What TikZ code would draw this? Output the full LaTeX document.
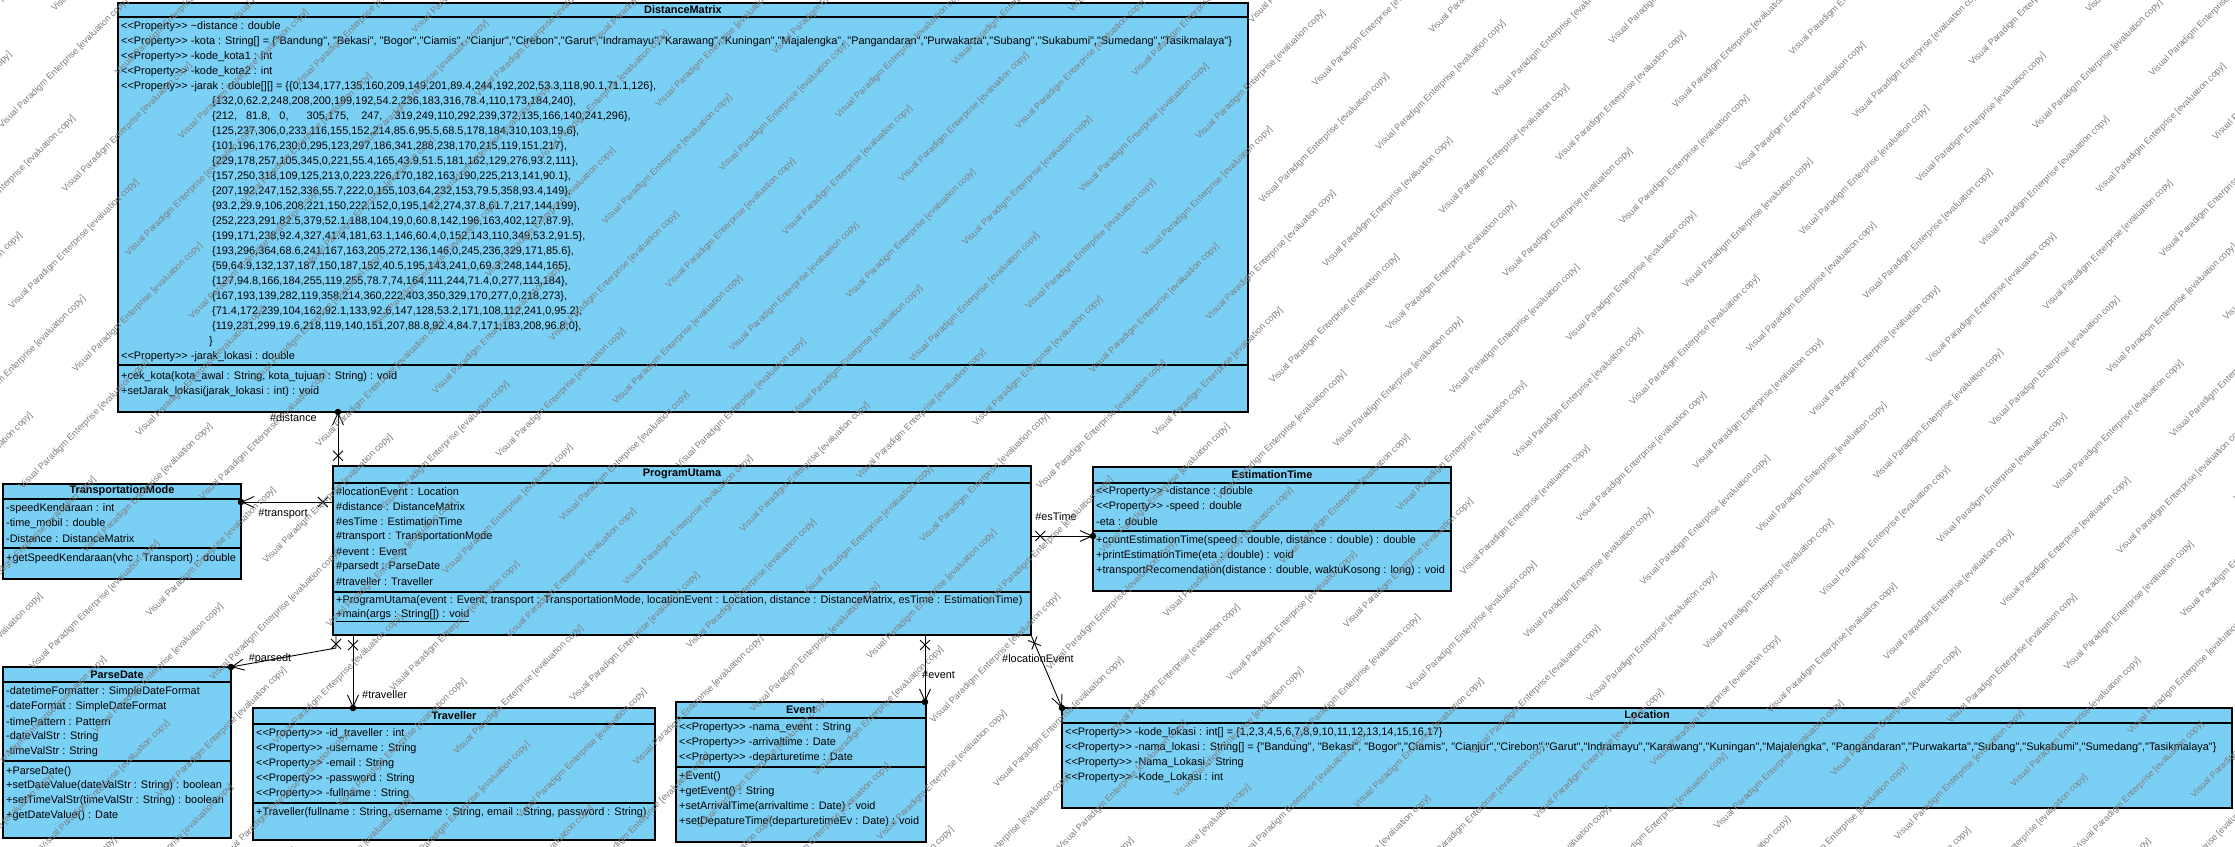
\documentclass[tikz,border=0pt]{standalone}
\usepackage{fontspec}
\newfontfamily\umlfont{Liberation Sans}
\usetikzlibrary{calc,arrows.meta,shapes.misc}
\definecolor{classfill}{RGB}{122,207,245}
\definecolor{wmark}{RGB}{125,125,125}

\tikzset{
  classbox/.style={draw=black, fill=classfill, line width=1.1pt, inner sep=0pt, outer sep=0pt, anchor=north west},
  cline/.style={line width=1.1pt},
  ctitle/.style={font=\umlfont\fontsize{10.9}{12}\selectfont\bfseries, inner sep=0pt},
  crow/.style={font=\umlfont\fontsize{10.9}{12}\selectfont, inner sep=0pt, anchor=west},
  assoc/.style={line width=0.9pt, -{Straight Barb[length=12pt,width=11pt]}},
  xmark/.style={draw, cross out, minimum size=9pt, inner sep=0pt, line width=0.9pt, sloped},
  dotend/.style={circle, fill=black, inner sep=0pt, minimum size=6.5pt},
  alabel/.style={font=\umlfont\fontsize{10.9}{12}\selectfont, inner sep=0pt},
  wm/.style={font=\umlfont\fontsize{9}{10}\selectfont, text=wmark, rotate=45, inner sep=0pt}
}

\begin{document}
\begin{tikzpicture}[x=1pt,y=-1pt]
\useasboundingbox[fill=white] (0,0) rectangle (2235,846);

% ---------- class boxes ----------
\node[classbox, minimum width=1130pt, minimum height=409pt] (DM) at (118,3) {};
\node[classbox, minimum width=698pt,  minimum height=169pt] (PU) at (333,466) {};
\node[classbox, minimum width=358pt,  minimum height=124pt] (ET) at (1093,467) {};
\node[classbox, minimum width=238pt,  minimum height=95pt]  (TM) at (3,484) {};
\node[classbox, minimum width=228pt,  minimum height=171pt] (PD) at (3,667) {};
\node[classbox, minimum width=402pt,  minimum height=132pt] (TR) at (253,708) {};
\node[classbox, minimum width=250pt,  minimum height=140pt] (EV) at (676,702) {};
\node[classbox, minimum width=1170pt, minimum height=100pt] (LO) at (1062,708) {};

% compartment separators
\draw[cline] (118,17) -- (1248,17);   \draw[cline] (118,365) -- (1248,365);
\draw[cline] (333,483) -- (1031,483); \draw[cline] (333,592) -- (1031,592);
\draw[cline] (1093,483) -- (1451,483); \draw[cline] (1093,531) -- (1451,531);
\draw[cline] (3,499) -- (241,499);    \draw[cline] (3,548) -- (241,548);
\draw[cline] (3,682) -- (231,682);    \draw[cline] (3,761) -- (231,761);
\draw[cline] (253,724) -- (655,724);  \draw[cline] (253,803) -- (655,803);
\draw[cline] (676,718) -- (926,718);  \draw[cline] (676,767) -- (926,767);
\draw[cline] (1062,723) -- (2232,723);

% ---------- DistanceMatrix ----------
\node[ctitle] (DMt) at (683,10) {DistanceMatrix};
\node[crow] (DMa1) at (121,27) {<{}<Property>{}> \textasciitilde distance : double};
\node[crow] (DMa2) at (121,42) {<{}<Property>{}> -kota : String[] = \{"Bandung", "Bekasi", "Bogor","Ciamis", "Cianjur","Cirebon","Garut","Indramayu","Karawang","Kuningan","Majalengka", "Pangandaran","Purwakarta","Subang","Sukabumi","Sumedang","Tasikmalaya"\}};
\node[crow] (DMa3) at (121,57) {<{}<Property>{}> -kode\_kota1 : int};
\node[crow] (DMa4) at (121,72) {<{}<Property>{}> -kode\_kota2 : int};
\node[crow] (DMa5) at (121,87) {<{}<Property>{}> -jarak : double[][] = \{\{0,134,177,135,160,209,149,201,89.4,244,192,202,53.3,118,90.1,71.1,126\},};
\foreach \r [count=\i from 0] in {
  {\{132,0,62.2,248,208,200,199,192,54.2,236,183,316,78.4,110,173,184,240\},},
  {\{212,\ \ \ 81.8,\ \ \ 0,\ \ \ \ \ \ 305,175,\ \ \ \ 247,\ \ \ \ 319,249,110,292,239,372,135,166,140,241,296\},},
  {\{125,237,306,0,233,116,155,152,214,85.6,95.5,68.5,178,184,310,103,19.6\},},
  {\{101,196,176,230,0,295,123,297,186,341,288,238,170,215,119,151,217\},},
  {\{229,178,257,105,345,0,221,55.4,165,43.9,51.5,181,162,129,276,93.2,111\},},
  {\{157,250,318,109,125,213,0,223,226,170,182,163,190,225,213,141,90.1\},},
  {\{207,192,247,152,336,55.7,222,0,155,103,64,232,153,79.5,358,93.4,149\},},
  {\{93.2,29.9,106,208,221,150,222,152,0,195,142,274,37.8,61.7,217,144,199\},},
  {\{252,223,291,82.5,379,52.1,188,104,19,0,60.8,142,196,163,402,127,87.9\},},
  {\{199,171,238,92.4,327,41.4,181,63.1,146,60.4,0,152,143,110,349,53.2,91.5\},},
  {\{193,296,364,68.6,241,167,163,205,272,136,146,0,245,236,329,171,85.6\},},
  {\{59,64.9,132,137,187,150,187,152,40.5,195,143,241,0,69.3,248,144,165\},},
  {\{127,94.8,166,184,255,119,255,78.7,74,164,111,244,71.4,0,277,113,184\},},
  {\{167,193,139,282,119,358,214,360,222,403,350,329,170,277,0,218,273\},},
  {\{71.4,172,239,104,162,92.1,133,92.6,147,128,53.2,171,108,112,241,0,95.2\},},
  {\{119,231,299,19.6,218,119,140,151,207,88.8,92.4,84.7,171,183,208,96.8,0\},}}
  \node[crow] (DMm\i) at (212,102+15*\i) {\r};
\node[crow] (DMclose) at (209,342) {\}};
\node[crow] (DMa6) at (121,357) {<{}<Property>{}> -jarak\_lokasi : double};
\node[crow] (DMo1) at (121,377) {+cek\_kota(kota\_awal : String, kota\_tujuan : String) : void};
\node[crow] (DMo2) at (121,392) {+setJarak\_lokasi(jarak\_lokasi : int) : void};

% ---------- ProgramUtama ----------
\node[ctitle] (PUt) at (682,474) {ProgramUtama};
\foreach \r [count=\i from 0] in {
  {\#locationEvent : Location}, {\#distance : DistanceMatrix}, {\#esTime : EstimationTime},
  {\#transport : TransportationMode}, {\#event : Event}, {\#parsedt : ParseDate}, {\#traveller : Traveller}}
  \node[crow] (PUa\i) at (336,492+15*\i) {\r};
\node[crow] (PUo1) at (336,601) {+ProgramUtama(event : Event, transport : TransportationMode, locationEvent : Location, distance : DistanceMatrix, esTime : EstimationTime)};
\node[crow] (PUo2) at (336,616) {\underline{+main(args : String[]) : void}};

% ---------- EstimationTime ----------
\node[ctitle] (ETt) at (1272,475) {EstimationTime};
\node[crow] (ETa1) at (1096,492) {<{}<Property>{}> -distance : double};
\node[crow] (ETa2) at (1096,507) {<{}<Property>{}> -speed : double};
\node[crow] (ETa3) at (1096,522) {-eta : double};
\node[crow] (ETo1) at (1096,541) {+countEstimationTime(speed : double, distance : double) : double};
\node[crow] (ETo2) at (1096,556) {+printEstimationTime(eta : double) : void};
\node[crow] (ETo3) at (1096,571) {+transportRecomendation(distance : double, waktuKosong : long) : void};

% ---------- TransportationMode ----------
\node[ctitle] (TMt) at (122,491) {TransportationMode};
\node[crow] (TMa1) at (6,509) {-speedKendaraan : int};
\node[crow] (TMa2) at (6,524) {-time\_mobil : double};
\node[crow] (TMa3) at (6,539) {-Distance : DistanceMatrix};
\node[crow] (TMo1) at (6,559) {+getSpeedKendaraan(vhc : Transport) : double};

% ---------- ParseDate ----------
\node[ctitle] (PDt) at (117,675) {ParseDate};
\node[crow] (PDa1) at (6,692) {-datetimeFormatter : SimpleDateFormat};
\node[crow] (PDa2) at (6,707) {-dateFormat : SimpleDateFormat};
\node[crow] (PDa3) at (6,722) {-timePattern : Pattern};
\node[crow] (PDa4) at (6,737) {-dateValStr : String};
\node[crow] (PDa5) at (6,752) {-timeValStr : String};
\node[crow] (PDo1) at (6,772) {+ParseDate()};
\node[crow] (PDo2) at (6,786) {+setDateValue(dateValStr : String) : boolean};
\node[crow] (PDo3) at (6,801) {+setTimeValStr(timeValStr : String) : boolean};
\node[crow] (PDo4) at (6,816) {+getDateValue() : Date};

% ---------- Traveller ----------
\node[ctitle] (TRt) at (454,716) {Traveller};
\node[crow] (TRa1) at (256,734) {<{}<Property>{}> -id\_traveller : int};
\node[crow] (TRa2) at (256,749) {<{}<Property>{}> -username : String};
\node[crow] (TRa3) at (256,764) {<{}<Property>{}> -email : String};
\node[crow] (TRa4) at (256,779) {<{}<Property>{}> -password : String};
\node[crow] (TRa5) at (256,794) {<{}<Property>{}> -fullname : String};
\node[crow] (TRo1) at (256,813) {+Traveller(fullname : String, username : String, email : String, password : String)};

% ---------- Event ----------
\node[ctitle] (EVt) at (801,710) {Event};
\node[crow] (EVa1) at (679,728) {<{}<Property>{}> -nama\_event : String};
\node[crow] (EVa2) at (679,743) {<{}<Property>{}> -arrivaltime : Date};
\node[crow] (EVa3) at (679,758) {<{}<Property>{}> -departuretime : Date};
\node[crow] (EVo1) at (679,777) {+Event()};
\node[crow] (EVo2) at (679,792) {+getEvent() : String};
\node[crow] (EVo3) at (679,807) {+setArrivalTime(arrivaltime : Date) : void};
\node[crow] (EVo4) at (679,822) {+setDepatureTime(departuretimeEv : Date) : void};

% ---------- Location ----------
\node[ctitle] (LOt) at (1647,715) {Location};
\node[crow] (LOa1) at (1065,733) {<{}<Property>{}> -kode\_lokasi : int[] = \{1,2,3,4,5,6,7,8,9,10,11,12,13,14,15,16,17\}};
\node[crow] (LOa2) at (1065,748) {<{}<Property>{}> -nama\_lokasi : String[] = \{"Bandung", "Bekasi", "Bogor","Ciamis", "Cianjur","Cirebon","Garut","Indramayu","Karawang","Kuningan","Majalengka", "Pangandaran","Purwakarta","Subang","Sukabumi","Sumedang","Tasikmalaya"\}};
\node[crow] (LOa3) at (1065,763) {<{}<Property>{}> -Nama\_Lokasi : String};
\node[crow] (LOa4) at (1065,778) {<{}<Property>{}> -Kode\_Lokasi : int};

% ---------- associations ----------
\draw[assoc] ($(PU.north west)+(5,0)$) -- node[pos=0.19, xmark] {}
  ($(DM.south west)+(220,0)$) node[pos=1, dotend] {};
\node[alabel, anchor=east] (Ldist) at (317,418) {\#distance};

\draw[assoc] ($(PU.north west)+(0,36)$) -- node[pos=0.11, xmark] {}
  ($(TM.north east)+(0,18)$) node[pos=1, dotend] {};
\node[alabel] (Ltrans) at (283,514) {\#transport};

\draw[assoc] ($(PU.north east)+(0,70)$) -- node[pos=0.15, xmark] {}
  ($(ET.north west)+(0,69)$) node[pos=1, dotend] {};
\node[alabel] (Lest) at (1056,517) {\#esTime};

\draw[assoc] ($(PU.south west)+(3,0)$) -- node[pos=0.7, xmark] {}
  ++(0,13) -- (PD.north east) node[pos=1, dotend] {};
\node[alabel] (Lparse) at (270,659) {\#parsedt};

\draw[assoc] ($(PU.south west)+(20,0)$) -- node[pos=0.14, xmark] {}
  ($(TR.north west)+(100,0)$) node[pos=1, dotend] {};
\node[alabel, anchor=west] (Ltrav) at (362,695) {\#traveller};

\draw[assoc] ($(PU.south west)+(592,0)$) -- node[pos=0.15, xmark] {}
  ($(EV.north east)+(-1,0)$) node[pos=1, dotend] {};
\node[alabel, anchor=west] (Levent) at (922,675) {\#event};

\draw[assoc] (PU.south east) -- node[pos=0.11, xmark] {}
  (LO.north west) node[pos=1, dotend] {};
\node[alabel, anchor=west] (Lloc) at (1002,659) {\#locationEvent};

% ---------- evaluation watermark, laid over the whole sheet ----------
\foreach \j in {-4,...,52}{
  \pgfmathtruncatemacro{\ilo}{floor((-940-53*\j)/169.7)}
  \pgfmathtruncatemacro{\ihi}{ceil((100-53*\j)/169.7)}
  \foreach \i in {\ilo,...,\ihi}{
    \pgfmathsetmacro{\wx}{169.7*\i + 116.6*\j}
    \pgfmathsetmacro{\wy}{-169.7*\i - 53*\j}
    \pgfmathtruncatemacro{\inside}{(\wx>-90) && (\wx<2320) && (\wy>-90) && (\wy<930) ? 1 : 0}
    \ifnum\inside=1
      \node[wm] at (\wx,\wy) {Visual Paradigm Enterprise [evaluation copy]};
    \fi
  }
}
\end{tikzpicture}
\end{document}
